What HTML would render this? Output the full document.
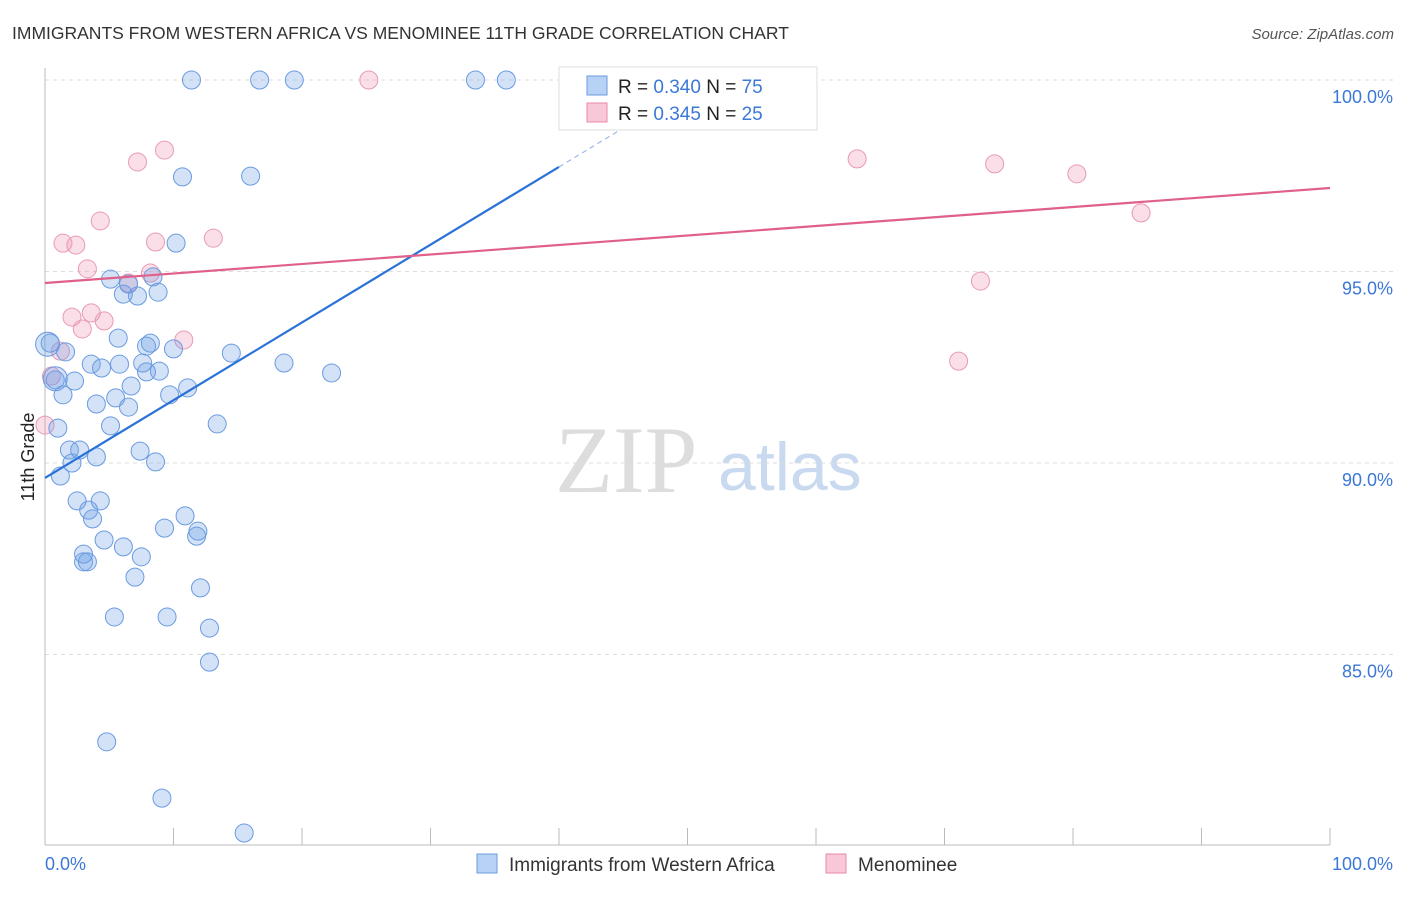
<!DOCTYPE html>
<html><head><meta charset="utf-8"><style>
body{margin:0;background:#fff;font-family:"Liberation Sans",sans-serif;}
svg text{font-family:"Liberation Sans",sans-serif;}
</style></head><body>
<svg id="chart" width="1406" height="892">
<text x="12" y="39" font-size="17.5" fill="#333">IMMIGRANTS FROM WESTERN AFRICA VS MENOMINEE 11TH GRADE CORRELATION CHART</text>
<text x="1394" y="39" font-size="15" fill="#555" text-anchor="end" font-style="italic">Source: ZipAtlas.com</text>
<text transform="translate(34,457) rotate(-90)" font-size="18" fill="#222" text-anchor="middle">11th Grade</text>
<text x="555" y="492" font-size="95" fill="#ddd" font-family="Liberation Serif" style="font-family:'Liberation Serif',serif">ZIP</text>
<text x="718" y="490" font-size="68" fill="#c8d9f0">atlas</text>
<g id="grid"></g><g id="axes"></g><g id="marks"></g>
<g>
<rect x="559" y="67" width="258" height="63" fill="#fff" stroke="#ddd"/>
<rect x="587" y="76" width="20" height="19" fill="#b8d2f5" stroke="#6a9be0"/>
<text x="618" y="93" font-size="19" fill="#222">R = <tspan fill="#3b78d8">0.340</tspan>   N = <tspan fill="#3b78d8">75</tspan></text>
<rect x="587" y="103" width="20" height="19" fill="#f8c8d8" stroke="#e88aa8"/>
<text x="618" y="120" font-size="19" fill="#222">R = <tspan fill="#3b78d8">0.345</tspan>   N = <tspan fill="#3b78d8">25</tspan></text>
</g>
<g>
<rect x="477" y="854" width="20" height="19" fill="#b8d2f5" stroke="#6a9be0"/>
<text x="509" y="871" font-size="19" fill="#333">Immigrants from Western Africa</text>
<rect x="826" y="854" width="20" height="19" fill="#f8c8d8" stroke="#e88aa8"/>
<text x="858" y="871" font-size="19" fill="#333">Menominee</text>
</g>
</svg>
<script>
const yTicks=[85,90,95,100];
const xTickLabels=["0.0%","100.0%"];
const blueX=[11.4,16.7,19.4,33.5,35.9,10.7,16.0,10.2,5.1,6.5,8.4,6.1,7.2,8.8,5.7,8.2,7.9,10.0,0.4,1.6,14.5,3.6,4.4,5.8,7.6,8.9,7.9,18.6,22.3,0.8,2.3,6.7,11.1,1.4,9.7,5.5,4.0,6.5,5.1,13.4,1.0,1.9,2.7,4.0,7.4,8.6,2.1,1.2,2.5,4.3,3.4,3.7,10.9,9.3,11.9,11.8,4.6,6.1,3.0,7.5,3.0,3.3,7.0,12.1,5.4,9.5,12.8,12.8,4.8,9.1,15.5,0.8,0.2];
const blueY=[100,100,100,100,100,97.47,97.49,95.74,94.80,94.67,94.86,94.41,94.36,94.46,93.26,93.13,93.05,92.98,93.13,92.90,92.87,92.58,92.48,92.58,92.61,92.40,92.38,92.61,92.35,92.17,92.14,92.01,91.96,91.78,91.78,91.70,91.54,91.46,90.97,91.02,90.91,90.34,90.34,90.16,90.31,90.03,90.00,89.66,89.01,89.01,88.77,88.54,88.62,88.30,88.22,88.09,87.99,87.81,87.62,87.55,87.42,87.42,87.02,86.74,85.98,85.98,85.69,84.80,82.72,81.25,80.34,92.2,93.1];
const pinkX=[25.2,7.2,9.3,63.2,73.9,80.3,85.3,4.3,1.4,2.4,8.6,13.1,3.3,8.2,6.5,72.8,2.1,3.6,4.6,2.9,10.8,1.2,71.1,0,0.5];
const pinkY=[100,97.86,98.17,97.94,97.81,97.55,96.53,96.32,95.74,95.69,95.77,95.87,95.07,94.96,94.70,94.75,93.81,93.92,93.71,93.50,93.21,92.92,92.66,90.99,92.27];
const blueTrend=[89.61,0.203];
const pinkTrend=[94.70,0.0248];
const NS="http://www.w3.org/2000/svg";
const X0=45,X1=1330,Y100=80,PXP=38.3;
const sx=v=>X0+(X1-X0)*v/100;
const sy=v=>Y100+(100-v)*PXP;
function mk(tag,attrs,parent){const e=document.createElementNS(NS,tag);for(const k in attrs)e.setAttribute(k,attrs[k]);parent.appendChild(e);return e;}
const grid=document.getElementById('grid'),axes=document.getElementById('axes'),marks=document.getElementById('marks');
yTicks.forEach(t=>{
 const l=mk('line',{x1:X0,x2:1394,y1:sy(t),y2:sy(t),stroke:'#ddd','stroke-dasharray':'4,4'},grid);
 
 
 const tx=mk('text',{x:1393,y:sy(t)+23,'font-size':18,fill:'#3b78d8','text-anchor':'end'},axes);
 tx.textContent=t.toFixed(1)+'%';
 
 
});
const ya=mk('line',{x1:X0,x2:X0,y1:68,y2:845,stroke:'#bbb'},axes);


const xa=mk('line',{x1:X0,x2:X1,y1:845,y2:845,stroke:'#bbb'},axes);


for(let i=0;i<=10;i++){
 const t=mk('line',{x1:sx(i*10),x2:sx(i*10),y1:828,y2:845,stroke:'#bbb'},axes);
 
 
}
const xl0=mk('text',{x:45,y:870,'font-size':18,fill:'#3b78d8'},axes);xl0.textContent=xTickLabels[0];


const xl1=mk('text',{x:1393,y:870,'font-size':18,fill:'#3b78d8','text-anchor':'end'},axes);xl1.textContent=xTickLabels[1];


function dots(xs,ys,fill,stroke,name){xs.forEach((x,i)=>{
 const r=(name==='blue-point'&&i>=xs.length-2)?12:9;
 const c=mk('circle',{cx:sx(x),cy:sy(ys[i]),r:r,fill:fill,stroke:stroke,'stroke-width':1},marks);
 
 
});}
dots(pinkX,pinkY,'rgba(240,150,180,0.3)','#e89ab4','pink-point');
dots(blueX,blueY,'rgba(110,160,230,0.3)','#6a9be0','blue-point');
const bEnd=40;
const bl=mk('line',{x1:sx(0),y1:sy(blueTrend[0]),x2:sx(bEnd),y2:sy(blueTrend[0]+blueTrend[1]*bEnd),stroke:'#2a72d8','stroke-width':2.2},marks);


const xTop=(100-blueTrend[0])/blueTrend[1];
const bd=mk('line',{x1:sx(bEnd),y1:sy(blueTrend[0]+blueTrend[1]*bEnd),x2:sx(xTop),y2:sy(100),stroke:'#9bbbe8','stroke-width':1.2,'stroke-dasharray':'5,4'},marks);


const pl=mk('line',{x1:sx(0),y1:sy(pinkTrend[0]),x2:sx(100),y2:sy(pinkTrend[0]+pinkTrend[1]*100),stroke:'#e0608a','stroke-width':2.2},marks);


</script>
</body></html>
